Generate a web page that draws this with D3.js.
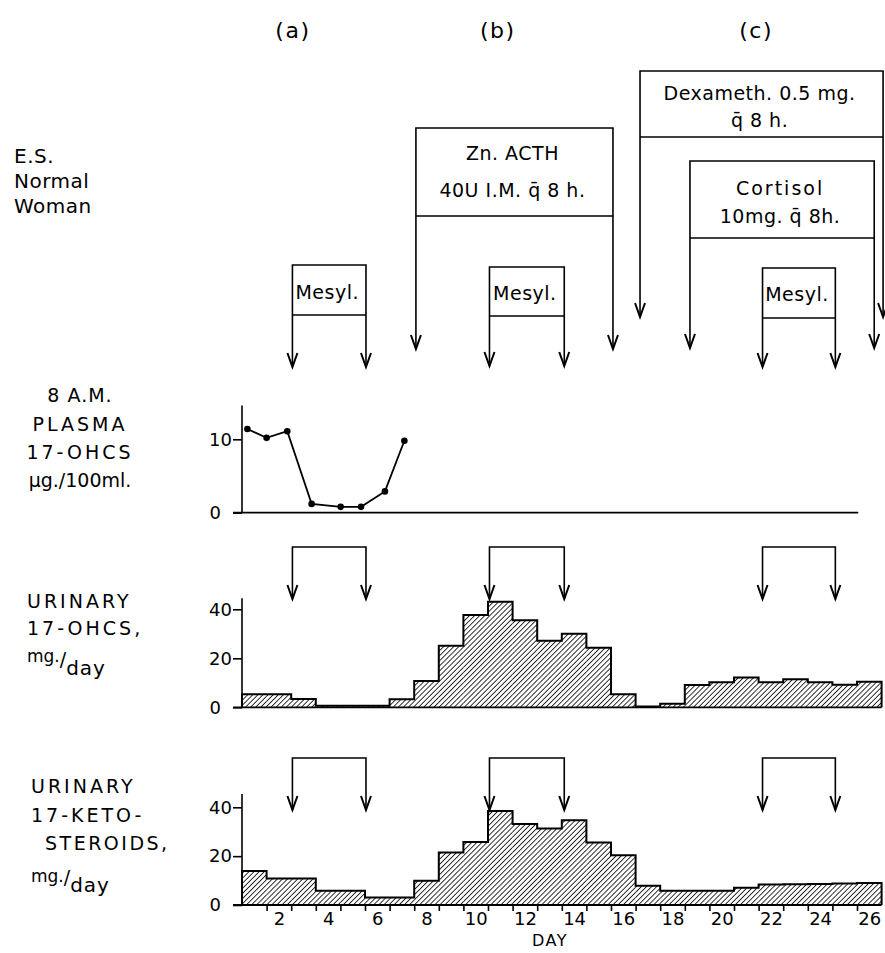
<!DOCTYPE html>
<html>
<head>
<meta charset="utf-8">
<script src="https://cdn.jsdelivr.net/npm/d3@7"></script>
<style>
  body { margin: 0; background: #fff; }
  svg { display: block; }
  text { font-family: "DejaVu Sans", sans-serif; fill: #000; }
</style>
</head>
<body>
<svg id="chart" width="885" height="953"></svg>
<script>
// ---------------- data ----------------
var days = [1, 2, 3, 4, 5, 6, 7, 8, 9, 10, 11, 12, 13, 14, 15, 16, 17, 18, 19, 20, 21, 22, 23, 24, 25, 26];
var dayLabels = [2, 4, 6, 8, 10, 12, 14, 16, 18, 20, 22, 24, 26];

// urinary 17-OHCS, mg/day
var ohcsValues = [5.3, 5.3, 3.4, 0.6, 0.6, 0.6, 3.3, 10.7, 25.1, 37.7, 43.1, 35.5, 27.2,
                  30.0, 24.3, 5.3, 0.3, 1.5, 9.1, 10.2, 12.2, 10.2, 11.5, 10.2, 9.2, 10.4];
// urinary 17-ketosteroids, mg/day
var ksValues = [13.9, 10.9, 10.9, 5.8, 5.8, 3.1, 3.1, 9.9, 21.5, 25.8, 38.5, 33.2, 31.3,
                34.7, 25.6, 20.4, 7.9, 5.8, 5.8, 5.8, 7.1, 8.4, 8.5, 8.6, 8.8, 9.0];
// 8 A.M. plasma 17-OHCS, ug/100ml
var plasmaDays = [0.72, 1.5, 2.34, 3.33, 4.51, 5.34, 6.31, 7.1];
var plasmaValues = [11.4, 10.2, 11.1, 1.2, 0.8, 0.8, 2.9, 9.8];

// treatments (day span of each bracket)
var treatNames = [["Mesyl."], ["Zn.  ACTH", "40U I.M. q\u0304 8 h."], ["Mesyl."],
                  ["Dexameth.  0.5 mg.", "q\u0304 8 h."], ["Cortisol", "10mg. q\u0304 8h."], ["Mesyl."]];
var treatStart = [2.55, 7.57, 10.56, 16.68, 18.71, 21.66];
var treatEnd   = [5.54, 15.58, 13.6, 26.56, 26.2, 24.62];

// mesyl. periods repeated above the urinary panels
var mesylStart = [2.55, 10.56, 21.66];
var mesylEnd   = [5.54, 13.6, 24.62];

var phaseLabels = ["(a)", "(b)", "(c)"];
var phaseDays = [2.57, 10.9, 21.4];


// ---------------- layout ----------------
var treatLayout = [
  {top: 265, bottom: 315, tip: 367, text: [299]},
  {top: 128, bottom: 216, tip: 349, text: [160, 197]},
  {top: 267, bottom: 316, tip: 366, text: [300]},
  {top: 71,  bottom: 137, tip: 317, text: [100, 127]},
  {top: 161, bottom: 238, tip: 348, text: [195, 223]},
  {top: 268, bottom: 318, tip: 367, text: [301]}
];

var svg = d3.select("#chart");

var defs = svg.append("defs");
defs.append("pattern")
    .attr("id", "hatch")
    .attr("patternUnits", "userSpaceOnUse")
    .attr("width", 3.6)
    .attr("height", 3.6)
    .attr("patternTransform", "rotate(45)")
  .append("line")
    .attr("x1", 0).attr("y1", -1)
    .attr("x2", 0).attr("y2", 4.6)
    .attr("stroke", "#000")
    .attr("stroke-width", 1.6);

var x = d3.scaleLinear().domain([0.5, 26.5]).range([242, 881.6]);
var yPlasma = d3.scaleLinear().domain([0, 10]).range([512.7, 439.3]);
var yOhcs = d3.scaleLinear().domain([0, 40]).range([707.3, 609.3]);
var yKs = d3.scaleLinear().domain([0, 40]).range([905, 807.3]);


// ---------------- helpers ----------------
function arrowHead(g, px, tip) {
  g.append("path")
      .attr("d", "M" + (px - 5) + "," + (tip - 14) + "L" + px + "," + tip + "L" + (px + 5) + "," + (tip - 14))
      .attr("fill", "none")
      .attr("stroke", "#000")
      .attr("stroke-width", 2);
}

function drawYAxis(y, ticks, topValue, xEnd) {
  var g = svg.append("g")
      .attr("transform", "translate(" + x(0.5) + ",0)")
      .call(d3.axisLeft(y).tickValues(ticks).tickSize(9).tickPadding(1));
  g.attr("font-family", "DejaVu Sans").attr("font-size", 18);
  g.select(".domain").remove();
  g.selectAll(".tick line").attr("stroke-width", 1.6);
  g.selectAll(".tick").filter(function(d) { return d === 0; })
      .select("text").attr("x", -21);

  // vertical axis and baseline
  svg.append("line")
      .attr("x1", x(0.5)).attr("x2", x(0.5))
      .attr("y1", y(0)).attr("y2", y(topValue))
      .attr("stroke", "#000").attr("stroke-width", 1.6);
  svg.append("line")
      .attr("x1", x(0.5) - 9).attr("x2", x(xEnd))
      .attr("y1", y(0)).attr("y2", y(0))
      .attr("stroke", "#000").attr("stroke-width", 1.8);
}

function drawHistogram(values, y) {
  svg.append("g").selectAll("rect")
      .data(days)
    .join("rect")
      .attr("x", function(d) { return x(d - 0.5); })
      .attr("width", function(d) { return x(d + 0.5) - x(d - 0.5); })
      .attr("y", function(d, i) { return y(values[i]); })
      .attr("height", function(d, i) { return y(0) - y(values[i]); })
      .attr("fill", "url(#hatch)");

  var pts = [[0.5, 0]]
      .concat(days.map(function(d, i) { return [d - 0.5, values[i]]; }))
      .concat([[26.5, values[values.length - 1]], [26.5, 0]]);
  var outline = d3.line()
      .x(function(p) { return x(p[0]); })
      .y(function(p) { return y(p[1]); })
      .curve(d3.curveStepAfter);
  svg.append("path")
      .attr("d", outline(pts))
      .attr("fill", "none")
      .attr("stroke", "#000")
      .attr("stroke-width", 2);
}

function drawBrackets(topY, tipY) {
  var g = svg.append("g");
  mesylStart.forEach(function(s, i) {
    var x0 = x(s), x1 = x(mesylEnd[i]);
    g.append("path")
        .attr("d", "M" + x0 + "," + tipY + "V" + topY + "H" + x1 + "V" + tipY)
        .attr("fill", "none").attr("stroke", "#000").attr("stroke-width", 1.6);
    arrowHead(g, x0, tipY);
    arrowHead(g, x1, tipY);
  });
}

function textLines(lines, xPos, y0, dy, size, spacing, anchor) {
  lines.forEach(function(t, i) {
    svg.append("text")
        .attr("x", xPos).attr("y", y0 + i * dy)
        .attr("font-size", size)
        .attr("letter-spacing", spacing)
        .attr("text-anchor", anchor)
        .text(t);
  });
}


// ---------------- phase labels ----------------
phaseLabels.forEach(function(t, i) {
  svg.append("text")
      .attr("x", x(phaseDays[i])).attr("y", 38)
      .attr("text-anchor", "middle")
      .attr("font-size", 22)
      .attr("letter-spacing", 1.5)
      .text(t);
});

// ---------------- treatment boxes ----------------
var tg = svg.append("g");
treatNames.forEach(function(names, i) {
  var L = treatLayout[i];
  var x0 = x(treatStart[i]), x1 = x(treatEnd[i]);
  tg.append("path")
      .attr("d", "M" + x0 + "," + L.tip + "V" + L.top + "H" + x1 + "V" + L.tip +
                 "M" + x0 + "," + L.bottom + "H" + x1)
      .attr("fill", "none").attr("stroke", "#000").attr("stroke-width", 1.6);
  arrowHead(tg, x0, L.tip);
  arrowHead(tg, x1, L.tip);
  names.forEach(function(t, j) {
    tg.append("text")
        .attr("x", (x0 + Math.min(x1, 884)) / 2 - 2)
        .attr("y", L.text[j])
        .attr("text-anchor", "middle")
        .attr("font-size", 19)
        .attr("letter-spacing", t === "Cortisol" ? 2 : 0.5)
        .text(t);
  });
});

// ---------------- left side labels ----------------
textLines(["E.S.", "Normal", "Woman"], 14, 163, 25, 20, 0.5, "start");
textLines(["8 A.M."], 80, 402, 0, 19, 1, "middle");
textLines(["PLASMA", "17-OHCS"], 80, 430.5, 28.5, 19, 3, "middle");
var ug = svg.append("text").attr("x", 80).attr("y", 487).attr("text-anchor", "middle").attr("font-size", 19);
ug.append("tspan").text("\u03bcg./100ml.");

textLines(["URINARY", "17-OHCS,"], 27, 608, 27, 19, 3, "start");
var m1 = svg.append("text").attr("x", 27).attr("y", 662).attr("font-size", 17);
m1.append("tspan").text("mg.");
m1.append("tspan").attr("dy", 4).attr("font-size", 19).text("/");
m1.append("tspan").attr("dy", 9).attr("font-size", 20).attr("letter-spacing", 1).text("day");

textLines(["URINARY", "17-KETO-"], 31, 793, 28.5, 19, 3, "start");
textLines(["STEROIDS,"], 45, 850, 0, 19, 2.5, "start");
var m2 = svg.append("text").attr("x", 31).attr("y", 882).attr("font-size", 17);
m2.append("tspan").text("mg.");
m2.append("tspan").attr("dy", 2).attr("font-size", 19).text("/");
m2.append("tspan").attr("dy", 8).attr("font-size", 20).attr("letter-spacing", 1).text("day");

// ---------------- plasma panel ----------------
drawYAxis(yPlasma, [0, 10], 14.6, 25.55);
var plasmaLine = d3.line()
    .x(function(d, i) { return x(plasmaDays[i]); })
    .y(function(d) { return yPlasma(d); });
svg.append("path")
    .attr("d", plasmaLine(plasmaValues))
    .attr("fill", "none").attr("stroke", "#000").attr("stroke-width", 1.8);
svg.append("g").selectAll("circle")
    .data(plasmaValues)
  .join("circle")
    .attr("cx", function(d, i) { return x(plasmaDays[i]); })
    .attr("cy", function(d) { return yPlasma(d); })
    .attr("r", 3.3)
    .attr("fill", "#000");

// ---------------- urinary 17-OHCS ----------------
drawBrackets(547, 599);
drawHistogram(ohcsValues, yOhcs);
drawYAxis(yOhcs, [0, 20, 40], 44.5, 26.5);

// ---------------- urinary 17-KS ----------------
drawBrackets(758, 810);
drawHistogram(ksValues, yKs);
drawYAxis(yKs, [0, 20, 40], 45.4, 26.5);

// bottom day axis: ticks at day boundaries, labels at even days
var tickG = svg.append("g")
    .attr("transform", "translate(0," + yKs(0) + ")")
    .call(d3.axisBottom(x).tickValues(days.slice(0, 25).map(function(d) { return d + 0.5; }))
            .tickSize(6).tickFormat(""));
tickG.select(".domain").remove();
tickG.selectAll(".tick line").attr("stroke-width", 1.6);

var labG = svg.append("g")
    .attr("transform", "translate(0," + yKs(0) + ")")
    .call(d3.axisBottom(x).tickValues(dayLabels).tickSize(0).tickPadding(7));
labG.attr("font-family", "DejaVu Sans").attr("font-size", 18);
labG.select(".domain").remove();

svg.append("text")
    .attr("x", 550).attr("y", 946)
    .attr("text-anchor", "middle")
    .attr("font-size", 16)
    .attr("letter-spacing", 1.5)
    .text("DAY");
</script>
</body>
</html>
